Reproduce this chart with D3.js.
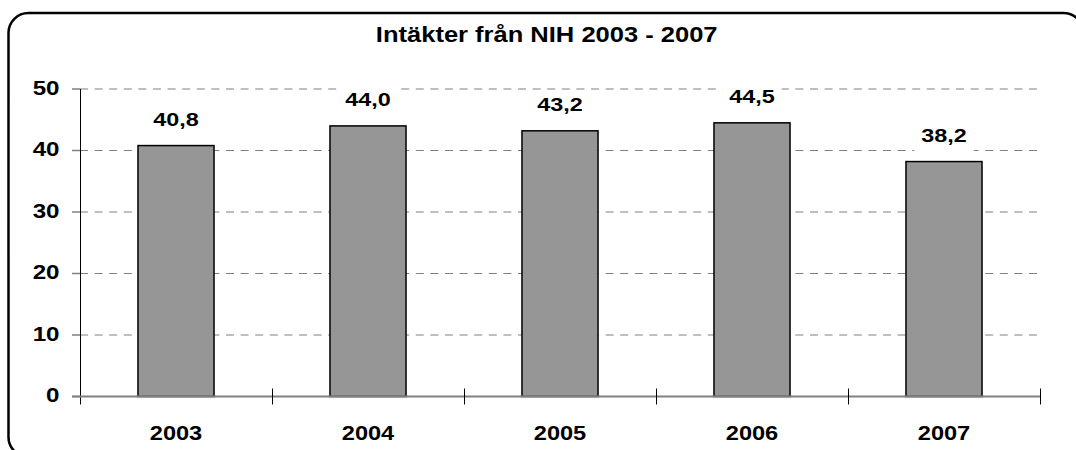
<!DOCTYPE html>
<html>
<head>
    <meta charset="utf-8">
    <script src="https://d3js.org/d3.v7.min.js"></script>
    <style>
        body { margin: 0; background: #fff; }
        text { font-family: Arial, "Liberation Sans", sans-serif; font-weight: bold; fill: #000; }
    </style>
</head>
<body>
    <script>
        const title = 'Intäkter från NIH 2003 - 2007';
        const years = ['2003', '2004', '2005', '2006', '2007'];
        const income = [40.8, 44.0, 43.2, 44.5, 38.2];
        const yTicks = [0, 10, 20, 30, 40, 50];

        const W = 1076, H = 450;

        const svg = d3.select('body')
            .append('svg')
            .attr('width', W)
            .attr('height', H);

        // outer frame with rounded corners (runs off the right and bottom edge)
        svg.append('rect')
            .attr('x', 8.5)
            .attr('y', 13)
            .attr('width', 1075)
            .attr('height', 444)
            .attr('rx', 20)
            .attr('fill', '#fff')
            .attr('stroke', '#000')
            .attr('stroke-width', 2.5);

        const xScale = d3.scaleBand()
            .domain(years)
            .range([80, 1040])
            .paddingInner(0.604)
            .paddingOuter(0.302);

        const yScale = d3.scaleLinear()
            .domain([0, 50])
            .range([396.5, 89]);

        const step = xScale.step();
        const x0 = 80, x1 = 1040;

        // text in the picture is a bit wider than normal, so stretch it sideways
        function addText(x, y, str, size, anchor, sx) {
            return svg.append('text')
                .attr('transform', `translate(${x},${y}) scale(${sx},1)`)
                .attr('text-anchor', anchor)
                .attr('font-size', size)
                .text(str);
        }

        // grid lines
        svg.append('g')
            .selectAll('line')
            .data(yTicks.filter(d => d > 0))
            .join('line')
            .attr('x1', x0)
            .attr('x2', x1)
            .attr('y1', d => yScale(d))
            .attr('y2', d => yScale(d))
            .attr('stroke', '#808080')
            .attr('stroke-width', 1.2)
            .attr('stroke-dasharray', '8,6.6');

        // bars
        svg.append('g')
            .selectAll('rect')
            .data(income)
            .join('rect')
            .attr('x', (d, i) => xScale(years[i]))
            .attr('y', d => yScale(d))
            .attr('width', xScale.bandwidth())
            .attr('height', d => yScale(0) - yScale(d))
            .attr('fill', '#969696')
            .attr('stroke', '#000')
            .attr('stroke-width', 1.5);

        // y axis: short grey ticks and a thin black line
        svg.append('g')
            .selectAll('line')
            .data(yTicks)
            .join('line')
            .attr('x1', 72)
            .attr('x2', x0)
            .attr('y1', d => yScale(d))
            .attr('y2', d => yScale(d))
            .attr('stroke', '#808080')
            .attr('stroke-width', 1.5);

        svg.append('line')
            .attr('x1', x0 + 0.5).attr('x2', x0 + 0.5)
            .attr('y1', yScale(50)).attr('y2', yScale(0) + 8)
            .attr('stroke', '#000')
            .attr('stroke-width', 1);

        // x axis line
        svg.append('line')
            .attr('x1', 72).attr('x2', x1)
            .attr('y1', yScale(0)).attr('y2', yScale(0))
            .attr('stroke', '#808080')
            .attr('stroke-width', 2);

        // x ticks between the categories
        const bounds = years.map(y => xScale(y) - xScale.paddingOuter() * step).concat([x1]);
        svg.append('g')
            .selectAll('line')
            .data(bounds.slice(1))
            .join('line')
            .attr('x1', d => d + 0.5)
            .attr('x2', d => d + 0.5)
            .attr('y1', yScale(0) - 8)
            .attr('y2', yScale(0) + 8)
            .attr('stroke', '#000')
            .attr('stroke-width', 1);

        // tick labels
        yTicks.forEach(t => addText(59.5, yScale(t) + 5.5, t, 21, 'end', 1.15));
        years.forEach(y => addText(xScale(y) + xScale.bandwidth() / 2, 439.7, y, 20, 'middle', 1.18));

        // value labels on white boxes
        income.forEach((v, i) => {
            const cx = xScale(years[i]) + xScale.bandwidth() / 2;
            const base = yScale(v) - 20;
            const label = d3.format('.1f')(v).replace('.', ',');
            const box = svg.append('rect').attr('fill', '#fff');
            const t = addText(cx, base, label, 18, 'middle', 1.3);
            const w = t.node().getComputedTextLength() * 1.3 + 14;
            box.attr('x', cx - w / 2)
                .attr('y', base - 18)
                .attr('width', w)
                .attr('height', 30);
            t.raise();
        });

        // title
        addText(546.7, 41.7, title, 22, 'middle', 1.16);
    </script>
</body>
</html>
